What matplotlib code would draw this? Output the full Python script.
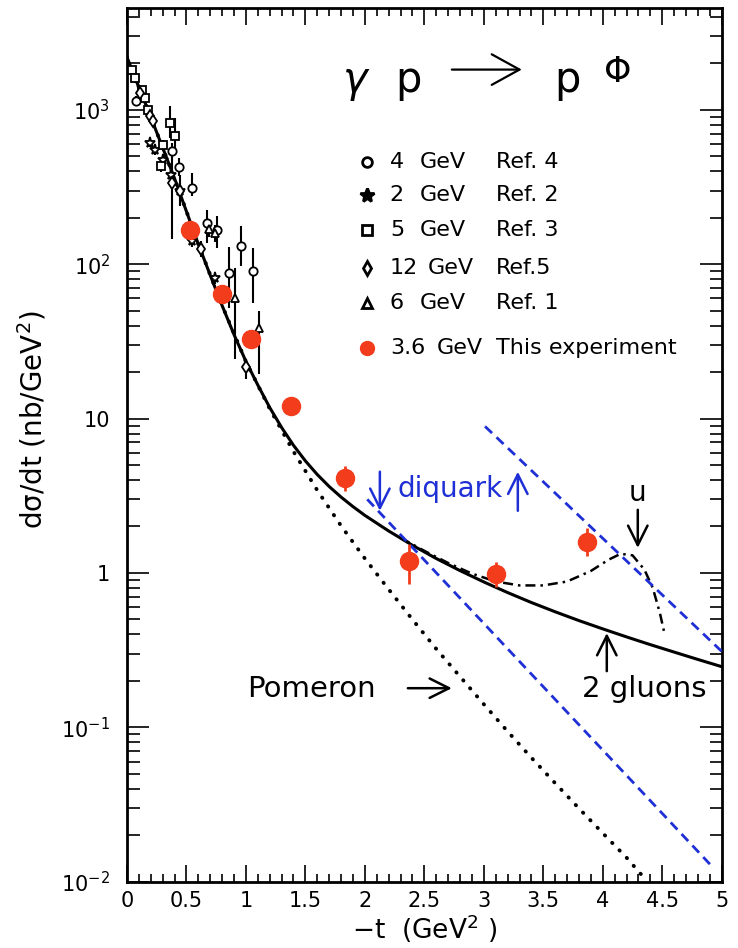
import numpy as np
import matplotlib.pyplot as plt
from matplotlib.ticker import FixedLocator, MultipleLocator, FixedFormatter, LogLocator, NullFormatter

plt.rcParams['font.family'] = ['DejaVu Sans']
plt.rcParams['mathtext.default'] = 'regular'

# ---- theory curves ----
# 2 gluons (solid)
t_gluon = [0.0, 0.1, 0.2, 0.3, 0.4, 0.5, 0.6, 0.7, 0.8, 0.9, 1.0, 1.1, 1.2, 1.3, 1.4,
           1.5, 1.6, 1.7, 1.8, 1.9, 2.0, 2.2, 2.4, 2.6, 2.8, 3.0, 3.2, 3.4, 3.6, 3.8,
           4.0, 4.2, 4.4, 4.6, 4.8, 5.0]
xs_gluon = [2200, 1400, 900, 570, 360, 220, 135, 85, 54, 35, 23.5, 16.5, 11.8, 8.76, 6.71,
            5.32, 4.34, 3.63, 3.10, 2.69, 2.36, 1.87, 1.51, 1.24, 1.035, 0.874, 0.746, 0.643, 0.560, 0.491,
            0.434, 0.385, 0.343, 0.307, 0.275, 0.247]

# Pomeron (dotted)
t_pom = [0.0, 0.2, 0.4, 0.6, 0.8, 1.0, 1.2, 1.4, 1.6, 1.8, 2.0, 2.2, 2.4, 2.6, 2.8,
         3.0, 3.2, 3.4, 3.6, 3.8, 4.0, 4.2, 4.37]
xs_pom = [2200, 900, 360, 135, 54, 23.4, 11.6, 6.12, 3.43, 2.02, 1.24, 0.783, 0.499, 0.322, 0.213,
          0.141, 0.094, 0.0635, 0.0434, 0.0298, 0.0206, 0.0143, 0.0101]

# u-channel (dash-dot)
t_u = [2.3, 2.5, 2.7, 2.9, 3.1, 3.3, 3.5, 3.7, 3.9, 4.05, 4.15, 4.25, 4.35, 4.42, 4.48, 4.52]
xs_u = [1.69, 1.39, 1.16, 0.99, 0.88, 0.83, 0.83, 0.88, 1.03, 1.22, 1.33, 1.30, 1.05, 0.80, 0.55, 0.40]

# diquark (blue dashed)
t_dq1 = [2.02, 4.92]
xs_dq1 = [3.0, 0.0125]
t_dq2 = [3.01, 5.0]
xs_dq2 = [8.9, 0.31]

# ---- data ----
# this experiment, 3.6 GeV
t_exp = [0.53, 0.80, 1.04, 1.38, 1.83, 2.37, 3.10, 3.87]
xs_exp = [166, 64, 33, 12.1, 4.1, 1.2, 0.985, 1.59]
err_lo = [14, 6, 3, 1.1, 0.7, 0.35, 0.17, 0.30]
err_hi = [15, 6, 3, 1.2, 0.8, 0.34, 0.20, 0.37]

# 4 GeV Ref. 4 (circles)
t_c = [0.08, 0.38, 0.44, 0.55, 0.67, 0.76, 0.86, 0.96, 1.06]
xs_c = [1140, 540, 425, 310, 184, 166, 88, 131, 90]
ec_lo = [80, 60, 50, 33, 47, 39, 36, 34, 34]
ec_hi = [90, 70, 60, 80, 41, 40, 42, 46, 37]

# 2 GeV Ref. 2 (stars)
t_s = [0.19, 0.24, 0.30, 0.37, 0.45, 0.55, 0.74]
xs_s = [611, 550, 470, 380, 300, 141, 81]
es = [40, 40, 35, 30, 25, 12, 6]

# 5 GeV Ref. 3 (squares)
t_q = [0.04, 0.07, 0.13, 0.15, 0.18, 0.29, 0.30, 0.36, 0.40]
xs_q = [1820, 1600, 1340, 1200, 1000, 435, 590, 820, 680]
eq_lo = [100, 100, 80, 70, 60, 40, 50, 165, 150]
eq_hi = [100, 100, 80, 70, 60, 40, 50, 240, 200]

# 12 GeV Ref. 5 (diamonds)
t_d = [0.11, 0.19, 0.22, 0.38, 0.45, 0.62, 1.0]
xs_d = [1290, 910, 850, 335, 297, 126, 21.5]
ed_lo = [70, 60, 55, 190, 60, 15, 3.5]
ed_hi = [70, 60, 55, 235, 80, 15, 3.0]

# 6 GeV Ref. 1 (triangles)
t_tr = [0.69, 0.74, 0.91, 1.11]
xs_tr = [170, 160, 60, 38.5]
etr_lo = [20, 20, 35.5, 19]
etr_hi = [20, 20, 34, 11.5]

blue = '#1f2fd6'
red = '#f23c1c'

fig = plt.figure(figsize=(7.38, 9.48), dpi=100)
ax = fig.add_axes([0.172, 0.070, 0.806, 0.922])

ax.plot(t_gluon, xs_gluon, color='black', lw=2.2, zorder=3)
ax.plot(t_pom, xs_pom, color='black', lw=2.8, linestyle=(0, (0.1, 2.6)),
        dash_capstyle='round', zorder=3)
ax.plot(t_u, xs_u, color='black', lw=1.8, linestyle=(0, (4, 2, 1, 2)), zorder=3)
ax.plot(t_dq1, xs_dq1, color=blue, lw=2.0, linestyle=(0, (3.5, 2.2)), zorder=3)
ax.plot(t_dq2, xs_dq2, color=blue, lw=2.0, linestyle=(0, (3.5, 2.2)), zorder=3)

ms = 6
ax.errorbar(t_c, xs_c, yerr=[ec_lo, ec_hi], fmt='o', ms=ms, mfc='white', mec='black',
            mew=1.3, ecolor='black', elinewidth=1.5, capsize=0, zorder=4)
ax.errorbar(t_s, xs_s, yerr=es, fmt='*', ms=ms + 2, mfc='white', mec='black',
            mew=1.3, ecolor='black', elinewidth=1.5, capsize=0, zorder=4)
ax.errorbar(t_q, xs_q, yerr=[eq_lo, eq_hi], fmt='s', ms=ms, mfc='white', mec='black',
            mew=1.3, ecolor='black', elinewidth=1.5, capsize=0, zorder=4)
ax.errorbar(t_d, xs_d, yerr=[ed_lo, ed_hi], fmt='d', ms=ms, mfc='white', mec='black',
            mew=1.3, ecolor='black', elinewidth=1.5, capsize=0, zorder=4)
ax.errorbar(t_tr, xs_tr, yerr=[etr_lo, etr_hi], fmt='^', ms=ms, mfc='white', mec='black',
            mew=1.3, ecolor='black', elinewidth=1.5, capsize=0, zorder=4)
ax.errorbar(t_exp, xs_exp, yerr=[err_lo, err_hi], fmt='o', ms=13, color=red,
            ecolor=red, elinewidth=2, capsize=0, zorder=5)

ax.set_yscale('log')
ax.set_xlim(0, 5)
ax.set_ylim(0.01, 4600)

# ticks
xt = [0, 0.5, 1, 1.5, 2, 2.5, 3, 3.5, 4, 4.5, 5]
ax.xaxis.set_major_locator(FixedLocator(xt))
ax.xaxis.set_minor_locator(MultipleLocator(0.1))
ax.xaxis.set_major_formatter(FixedFormatter(['0', '0.5', '1', '1.5', '2', '2.5', '3', '3.5', '4', '4.5', '5']))
yt = [0.01, 0.1, 1, 10, 100, 1000]
ax.yaxis.set_major_locator(FixedLocator(yt))
ax.yaxis.set_major_formatter(FixedFormatter(['$10^{-2}$', '$10^{-1}$', '1', '10', '$10^{2}$', '$10^{3}$']))
ax.yaxis.set_minor_locator(LogLocator(base=10, subs=np.arange(2, 10)))
ax.yaxis.set_minor_formatter(NullFormatter())
ax.tick_params(which='both', direction='in', top=True, right=True, width=1.2)
ax.tick_params(axis='x', which='major', length=12, labelsize=15, pad=7)
ax.tick_params(axis='x', which='minor', length=6)
ax.tick_params(axis='y', which='major', length=16, labelsize=15, pad=12)
ax.tick_params(axis='y', which='minor', length=9)
for s in ax.spines.values():
    s.set_linewidth(2)

ax.set_xlabel('$-$t  (GeV$^2$ )', fontsize=19, labelpad=1)
ax.set_ylabel('dσ/dt (nb/GeV$^2$)', fontsize=20)
ax.yaxis.set_label_coords(-0.132, 0.529)

# reaction title
tr = ax.transAxes
def fx(px):
    return (px - 127) / 595.0
def fy(py):
    return (882 - py) / 874.0
ax.text(fx(355), fy(80), 'γ', fontsize=30, ha='center', va='center', transform=tr,
        style='italic')
ax.text(fx(409), fy(80), 'p', fontsize=30, ha='center', va='center', transform=tr)
ax.annotate('', xy=(fx(522), fy(70)), xytext=(fx(452), fy(70)), xycoords=tr,
            arrowprops=dict(arrowstyle='->,head_length=1.0,head_width=0.55', lw=1.6,
                            color='black', shrinkA=0, shrinkB=0, mutation_scale=20))
ax.text(fx(568), fy(80), 'p', fontsize=30, ha='center', va='center', transform=tr)
ax.text(fx(618), fy(72), 'Φ', fontsize=25, ha='center', va='center', transform=tr)

# legend (drawn by hand)
leg_y = [162, 195, 230, 268, 303, 348]
leg_m = ['o', '*', 's', 'd', '^', 'o']
leg_e = ['4', '2', '5', '12', '6', '3.6']
leg_g = [420, 420, 420, 428, 420, 437]
leg_r = ['Ref. 4', 'Ref. 2', 'Ref. 3', 'Ref.5', 'Ref. 1', 'This experiment']
for i in range(6):
    if i == 5:
        ax.plot([fx(367)], [fy(leg_y[i])], 'o', ms=10, color=red, transform=tr, clip_on=False)
    else:
        ax.plot([fx(367)], [fy(leg_y[i])], leg_m[i], ms=7 if leg_m[i] != '*' else 10,
                mfc='white' if leg_m[i] != '*' else 'black', mec='black', mew=2,
                transform=tr, clip_on=False)
    ax.text(fx(390), fy(leg_y[i]), leg_e[i], fontsize=16, va='center', ha='left', transform=tr)
    ax.text(fx(leg_g[i]), fy(leg_y[i]), 'GeV', fontsize=16, va='center', ha='left', transform=tr)
    ax.text(fx(496), fy(leg_y[i]), leg_r[i], fontsize=16, va='center', ha='left', transform=tr)

# annotations
def d(px, py):
    return ((px - 127) / 119.0, 10 ** ((574 - py) / 154.0))
arr = dict(arrowstyle='->,head_length=0.7,head_width=0.35', lw=1.8, shrinkA=0, shrinkB=0,
           mutation_scale=20)
ax.annotate('', xy=d(380, 512), xytext=d(380, 473), arrowprops=dict(arr, color=blue))
ax.annotate('', xy=d(518, 473), xytext=d(518, 512), arrowprops=dict(arr, color=blue))
ax.text(*d(450, 490), 'diquark', color=blue, fontsize=20, ha='center', va='center')
ax.text(*d(638, 494), 'u', fontsize=20, ha='center', va='center')
ax.annotate('', xy=d(638, 549), xytext=d(638, 511), arrowprops=dict(arr, color='black'))
ax.text(*d(644, 690), '2 gluons', fontsize=21, ha='center', va='center')
ax.annotate('', xy=d(607, 634), xytext=d(607, 672), arrowprops=dict(arr, color='black'))
ax.text(*d(312, 690), 'Pomeron', fontsize=21, ha='center', va='center')
ax.annotate('', xy=d(452, 689), xytext=d(408, 689), arrowprops=dict(arr, color='black'))

fig.savefig('out.png', dpi=100)
